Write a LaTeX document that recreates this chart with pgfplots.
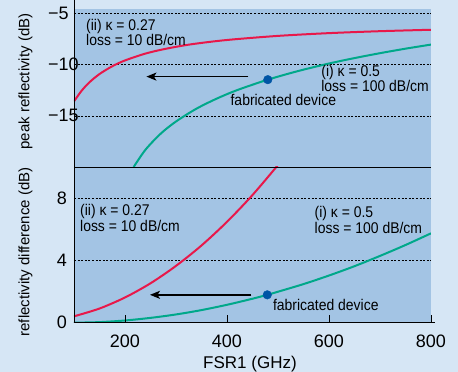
\documentclass[border=0pt]{standalone}
\usepackage{fontspec}
\setmainfont{Liberation Sans}
\newfontfamily\annfont{Liberation Sans}[FakeStretch=0.9]
\usepackage{pgfplots}
\pgfplotsset{compat=1.18}
\usetikzlibrary{arrows.meta}
\definecolor{outerbg}{RGB}{214,230,245}
\definecolor{plotbg}{RGB}{163,196,228}
\definecolor{myred}{RGB}{232,24,74}
\definecolor{mygreen}{RGB}{0,168,138}
\definecolor{mydot}{RGB}{0,85,165}
\newcommand{\ann}{\annfont\fontsize{15.5}{17}\selectfont}
\pgfplotsset{
  common/.style={
    scale only axis, width=357pt, xmin=100, xmax=800,
    axis background/.style={fill=plotbg},
    axis x line=bottom, axis y line=left,
    axis line style={-, line width=0.9pt, black},
    ymajorgrids,
    major grid style={black, line width=0.6pt, dash pattern=on 2pt off 1.6pt},
    ytick style={draw=none},
    clip=true,
  },
}
\begin{document}
\begin{tikzpicture}[x=1pt,y=1pt]
\path[use as bounding box, fill=outerbg] (0,0) rectangle (458,372);
% ---------------- top panel ----------------
\begin{axis}[common, at={(74pt,205pt)}, anchor=south west, height=158pt,
  ymin=-20, ymax=-4.55,
  ytick={-5,-10,-15}, yticklabels={−5,−10,−15},
  yticklabel style={anchor=west, inner sep=0pt, xshift=-24pt, font=\fontsize{18}{18}\selectfont},
  xtick=\empty,
  ylabel={peak reflectivity (dB)},
  ylabel style={at={(rel axis cs:-0.136,0.541)}, anchor=center, inner sep=0pt, font=\fontsize{15}{15}\selectfont},
]
\addplot[myred, line width=2pt, smooth] coordinates {
(100,-13.58)(115,-12.54)(130,-11.73)(150,-10.91)(175,-10.15)(200,-9.58)(240,-8.91)(280,-8.44)(330,-8.00)(400,-7.58)(500,-7.18)(600,-6.91)(700,-6.72)(800,-6.58)};
\addplot[mygreen, line width=2pt, smooth] coordinates {
(217,-20.0)(240,-18.32)(270,-16.74)(300,-15.55)(340,-14.30)(380,-13.31)(420,-12.48)(480,-11.46)(540,-10.61)(600,-9.88)(650,-9.35)(700,-8.87)(750,-8.43)(800,-8.03)};
\draw[line width=1.5pt, -{Stealth[length=10pt,width=8pt,inset=2.5pt]}] (axis cs:442,-11.16) -- (axis cs:242,-11.16);
\addplot[only marks, mark=*, mark size=4.3pt, mark options={draw=mydot, fill=mydot}] coordinates {(480,-11.46)};
\node[anchor=base west, inner sep=0pt, font=\ann] at (axis cs:123.5,-6.62) {(ii) κ = 0.27};
\node[anchor=base west, inner sep=0pt, font=\ann] at (axis cs:123.5,-8.12) {loss = 10 dB/cm};
\node[anchor=base west, inner sep=0pt, font=\ann] at (axis cs:584.7,-11.13) {(i) κ = 0.5};
\node[anchor=base west, inner sep=0pt, font=\ann] at (axis cs:584.7,-12.65) {loss = 100 dB/cm};
\node[anchor=base west, inner sep=0pt, font=\ann] at (axis cs:406.7,-13.94) {fabricated device};
\end{axis}
% ---------------- bottom panel ----------------
\begin{axis}[common, at={(74pt,49.3pt)}, anchor=south west, height=155.7pt,
  ymin=0, ymax=10,
  ytick={0,4,8}, yticklabels={0,4,8},
  yticklabel style={anchor=east, inner sep=0pt, xshift=-7pt, font=\fontsize{18}{18}\selectfont},
  xtick={200,400,600,800}, xticklabels={200,400,600,800},
  xticklabel style={anchor=north, inner sep=0pt, yshift=-12pt, font=\fontsize{18}{18}\selectfont},
  tick align=inside, major tick length=8pt,
  xtick style={black, line width=0.8pt},
  ylabel={reflectivity difference (dB)},
  ylabel style={at={(rel axis cs:-0.136,0.454)}, anchor=center, inner sep=0pt, font=\fontsize{15}{15}\selectfont},
  xlabel={FSR1 (GHz)},
  xlabel style={at={(rel axis cs:0.493,-0.265)}, anchor=center, inner sep=0pt, font=\fontsize{17}{17}\selectfont},
]
\addplot[myred, line width=2pt, smooth] coordinates {
(100,0.41)(150,0.91)(200,1.62)(250,2.53)(300,3.65)(350,4.96)(400,6.48)(450,8.20)(500,10.13)(520,10.95)};
\addplot[mygreen, line width=2pt, smooth] coordinates {
(100,0.0)(150,0.038)(200,0.142)(250,0.31)(300,0.53)(350,0.81)(400,1.15)(450,1.54)(479,1.79)(500,1.99)(550,2.48)(600,3.03)(650,3.63)(700,4.29)(750,4.99)(800,5.74)};
\draw[line width=1.5pt, -{Stealth[length=10pt,width=8pt,inset=2.5pt]}] (axis cs:448,1.79) -- (axis cs:249,1.79);
\addplot[only marks, mark=*, mark size=4.3pt, mark options={draw=mydot, fill=mydot}] coordinates {(479,1.79)};
\node[anchor=base west, inner sep=0pt, font=\ann] at (axis cs:111.7,6.88) {(ii) κ = 0.27};
\node[anchor=base west, inner sep=0pt, font=\ann] at (axis cs:111.7,5.83) {loss = 10 dB/cm};
\node[anchor=base west, inner sep=0pt, font=\ann] at (axis cs:571.6,6.77) {(i) κ = 0.5};
\node[anchor=base west, inner sep=0pt, font=\ann] at (axis cs:571.6,5.70) {loss = 100 dB/cm};
\node[anchor=base west, inner sep=0pt, font=\ann] at (axis cs:490,0.77) {fabricated device};
\end{axis}
% axis lines and ticks
\draw[line width=0.9pt] (74,49.3) -- (74,371.5);
\draw[line width=0.9pt] (74,205) -- (431,205);
\draw[line width=0.9pt] (73.55,49.3) -- (435,49.3);
\foreach \tx in {125,227,329,431} \draw[line width=0.8pt] (\tx,49.3) -- (\tx,57.3);
\end{tikzpicture}
\end{document}
